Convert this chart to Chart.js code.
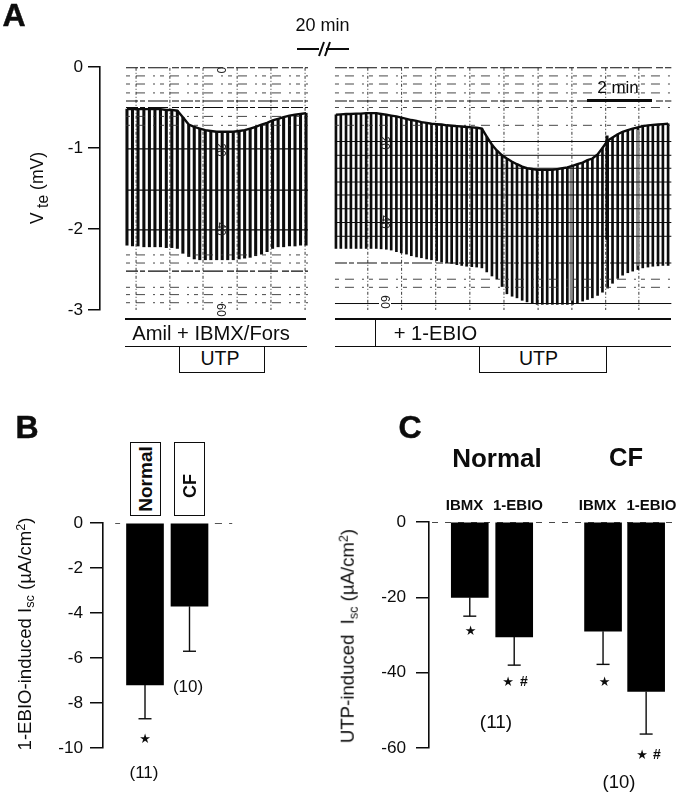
<!DOCTYPE html>
<html><head><meta charset="utf-8">
<script src="https://cdn.jsdelivr.net/npm/chart.js@4"></script>
<style>
html,body{margin:0;padding:0;background:#fff;width:685px;height:794px;overflow:hidden}
body{position:relative;font-family:"Liberation Sans",Arial,sans-serif;color:#0c0c0c}
canvas{position:absolute;left:0}
.t{position:absolute;white-space:nowrap;line-height:1;transform:translate(-50%,-50%)}
.r{transform:translate(-50%,-50%) rotate(-90deg)}
.cw{transform:translate(-50%,-50%) rotate(90deg);font-size:12px;color:#222}
.b{font-weight:bold}
.l{position:absolute;background:#0c0c0c}
.box{position:absolute;border:1.3px solid #0c0c0c;box-sizing:border-box;background:#fff}
sub{font-size:.68em;vertical-align:-.28em;line-height:0}
sup{font-size:.68em;vertical-align:.45em;line-height:0}
.s{font-family:"DejaVu Sans";font-size:13px}
</style></head><body>
<canvas id="cA" width="685" height="380" style="top:0"></canvas>
<canvas id="cB" width="300" height="394" style="top:400px"></canvas>
<canvas id="cC" width="355" height="394" style="top:400px;left:330px"></canvas>

<div class="t b" style="left:14px;top:15px;font-size:32px;-webkit-text-stroke:.5px #0c0c0c">A</div>
<div class="t" style="left:322.5px;top:25px;font-size:18px">20 min</div>
<svg style="position:absolute;left:295px;top:40px" width="58" height="18"><path d="M2 9H24M31 9H54M24 16L29 2M30 16L35 2" stroke="#0c0c0c" stroke-width="2" fill="none"/></svg>
<div class="t r" style="left:38px;top:188px;font-size:17.5px">V<sub style="font-size:.9em"> te</sub> (mV)</div>
<div class="t" style="left:618px;top:87px;font-size:17px">2 min</div>
<div class="l" style="left:587px;top:99px;width:65px;height:3px"></div>
<div class="t cw" style="left:221px;top:70px">0</div>
<div class="t cw" style="left:221px;top:150px">20</div>
<div class="t cw" style="left:221px;top:229px">40</div>
<div class="t cw" style="left:221px;top:310px;background:#fff">60</div>
<div class="t cw" style="left:385px;top:143px">20</div>
<div class="t cw" style="left:385px;top:222px">40</div>
<div class="t cw" style="left:385px;top:302px;background:#fff">60</div>

<div class="l" style="left:125px;top:318px;width:181px;height:1.5px"></div>
<div class="l" style="left:125px;top:345.5px;width:182px;height:1.5px"></div>
<div class="l" style="left:335px;top:318px;width:336px;height:1.5px"></div>
<div class="l" style="left:335px;top:345.5px;width:336px;height:1.5px"></div>
<div class="l" style="left:375px;top:318px;width:1.3px;height:28px"></div>
<div class="t" style="left:211px;top:333px;font-size:20.2px">Amil + IBMX/Fors</div>
<div class="t" style="left:435.5px;top:333px;font-size:20.2px">+ 1-EBIO</div>
<div class="box" style="left:179px;top:346px;width:86px;height:27px"></div>
<div class="t" style="left:220px;top:359px;font-size:19.5px">UTP</div>
<div class="box" style="left:479px;top:346px;width:128px;height:27px"></div>
<div class="t" style="left:538.5px;top:359px;font-size:19.5px">UTP</div>

<div class="t b" style="left:27px;top:427px;font-size:32px;-webkit-text-stroke:.5px #0c0c0c">B</div>
<div class="box" style="left:130px;top:441.5px;width:31px;height:74px"></div>
<div class="box" style="left:173.5px;top:442px;width:31px;height:73.5px"></div>
<div class="t r b" style="left:145px;top:479px;font-size:19px">Normal</div>
<div class="t r b" style="left:189.5px;top:485.5px;font-size:18px">CF</div>
<div class="t r" style="left:25px;top:633.5px;font-size:18.6px">1-EBIO-induced I<sub>sc</sub> (µA/cm<sup>2</sup>)</div>
<div class="t s" style="left:145px;top:738px">★</div>
<div class="t" style="left:144px;top:772px;font-size:17px">(11)</div>
<div class="t" style="left:188px;top:686px;font-size:17px">(10)</div>

<div class="t b" style="left:410px;top:427px;font-size:32px;-webkit-text-stroke:.5px #0c0c0c">C</div>
<div class="t b" style="left:497px;top:458px;font-size:26px">Normal</div>
<div class="t b" style="left:626px;top:458px;font-size:25.5px">CF</div>
<div class="t b" style="left:464.5px;top:504px;font-size:15px">IBMX</div>
<div class="t b" style="left:518px;top:504px;font-size:15px">1-EBIO</div>
<div class="t b" style="left:597.5px;top:504px;font-size:15px">IBMX</div>
<div class="t b" style="left:651.5px;top:504px;font-size:15px">1-EBIO</div>
<div class="t r" style="left:348px;top:636px;font-size:18.6px">UTP-induced&nbsp; I<sub>sc</sub> (µA/cm<sup>2</sup>)</div>
<div class="t s" style="left:470.5px;top:629.5px">★</div>
<div class="t s" style="left:508px;top:681px">★</div>
<div class="t b" style="left:524px;top:681px;font-size:14px">#</div>
<div class="t s" style="left:604.5px;top:681px">★</div>
<div class="t s" style="left:642px;top:754px">★</div>
<div class="t b" style="left:657px;top:754px;font-size:14px">#</div>
<div class="t" style="left:496px;top:721px;font-size:19px">(11)</div>
<div class="t" style="left:619px;top:782px;font-size:18.5px">(10)</div>

<script>
// Panel A: times in minutes, voltages in mV
const aLeftTimes=[0.83,1.00,1.17,1.35,1.52,1.69,1.86,2.04,2.21,2.38,2.55,2.73,2.90,3.07,3.24,3.41,3.59,3.76,3.93,4.10,4.28,4.45,4.62,4.79,4.97,5.14,5.31,5.48,5.65,5.83,6.00,6.17,6.34];
const aLeftTop=[-0.52,-0.52,-0.52,-0.52,-0.52,-0.52,-0.52,-0.53,-0.53,-0.54,-0.62,-0.71,-0.74,-0.76,-0.78,-0.79,-0.80,-0.80,-0.80,-0.80,-0.79,-0.78,-0.76,-0.74,-0.71,-0.69,-0.66,-0.64,-0.62,-0.60,-0.59,-0.58,-0.57];
const aLeftBottom=[-2.20,-2.21,-2.21,-2.22,-2.22,-2.22,-2.22,-2.23,-2.23,-2.24,-2.30,-2.34,-2.37,-2.38,-2.38,-2.38,-2.38,-2.38,-2.38,-2.38,-2.37,-2.36,-2.35,-2.33,-2.31,-2.28,-2.24,-2.22,-2.22,-2.21,-2.21,-2.20,-2.20];
const aRightTimes=[7.26,7.41,7.57,7.72,7.88,8.03,8.19,8.34,8.50,8.65,8.81,8.96,9.12,9.27,9.43,9.58,9.74,9.89,10.05,10.20,10.36,10.51,10.67,10.82,10.98,11.13,11.28,11.44,11.59,11.75,11.90,12.06,12.21,12.37,12.52,12.68,12.83,12.99,13.14,13.30,13.45,13.61,13.76,13.92,14.07,14.23,14.38,14.54,14.69,14.85,15.00,15.15,15.31,15.46,15.62,15.77,15.93,16.08,16.24,16.39,16.55,16.70,16.86,17.01,17.17,17.32,17.48];
const aRightTop=[-0.59,-0.585,-0.58,-0.58,-0.575,-0.575,-0.57,-0.57,-0.57,-0.58,-0.59,-0.60,-0.61,-0.625,-0.64,-0.655,-0.665,-0.68,-0.69,-0.70,-0.705,-0.71,-0.72,-0.725,-0.73,-0.735,-0.74,-0.745,-0.75,-0.76,-0.86,-0.96,-1.03,-1.09,-1.13,-1.17,-1.20,-1.23,-1.25,-1.26,-1.27,-1.27,-1.27,-1.27,-1.26,-1.25,-1.24,-1.22,-1.20,-1.18,-1.15,-1.13,-1.08,-1.00,-0.91,-0.87,-0.83,-0.80,-0.78,-0.76,-0.745,-0.73,-0.72,-0.715,-0.71,-0.705,-0.70];
const aRightBottom=[-2.24,-2.24,-2.24,-2.24,-2.24,-2.24,-2.24,-2.24,-2.24,-2.245,-2.25,-2.26,-2.28,-2.295,-2.31,-2.33,-2.345,-2.355,-2.37,-2.38,-2.39,-2.405,-2.415,-2.425,-2.44,-2.45,-2.46,-2.465,-2.47,-2.48,-2.53,-2.58,-2.62,-2.71,-2.80,-2.83,-2.85,-2.88,-2.90,-2.92,-2.93,-2.93,-2.93,-2.93,-2.93,-2.93,-2.93,-2.93,-2.91,-2.89,-2.87,-2.85,-2.82,-2.78,-2.73,-2.67,-2.61,-2.57,-2.54,-2.52,-2.50,-2.48,-2.47,-2.46,-2.455,-2.45,-2.45];
const spikeTime=[15.6], spikeRange=[[-2.13,-0.85]];
const streakTimes=[14.50,16.55], streakRanges=[[-2.88,-1.22],[-2.45,-0.78]];
// chart-paper rulings
const leftSpan=[0.80,6.40], rightSpan=[7.23,17.58];
const leftBroken=[-0.01,-0.42,-0.5,-2.52,-3.01];
const leftSolid=[-1.01,-1.52,-2.01];
const leftFaint=[-0.11,-0.21,-0.32,-0.61,-0.72,-2.32,-2.42,-2.72,-2.81,-2.91];
const rightBroken=[-0.01,-0.42,-2.42,-3.01];
const rightSolid=[-0.92,-1.09,-1.25,-1.42,-1.58,-1.75,-1.92,-2.09,-2.92];
const rightFaint=[-0.11,-0.21,-0.32,-0.5,-0.72,-2.62,-2.72];
const leftVertical=[1.11,2.15,3.17,4.22,5.26,6.31];
const rightVertical=[8.24,9.28,10.33,11.38,12.43,13.48,14.52,15.56,16.58];
// Panel B
const bCategories=['Normal','CF'], bPositions=[1,2], bValues=[-7.2,-3.7], bErrors=[-8.7,-5.7];
const bZeroSegments=[[0.33,0.44],[2.57,2.73],[2.89,2.96]];
// Panel C
const cCategories=['IBMX','1-EBIO','IBMX','1-EBIO'], cPositions=[1,2,4,4.97], cValues=[-20,-30.5,-29,-45], cErrors=[-25,-38,-37.8,-56.3];
const cZeroSpan=[0.15,5.65];

Chart.defaults.font.family='"Liberation Sans",Arial,sans-serif';
Chart.defaults.color='#0c0c0c';
const INK='#0c0c0c';
const seg=(x0,x1,y0,y1,w,c,dash)=>({type:'line',data:[{x:x0,y:y0},{x:x1,y:y1}],borderColor:c,borderWidth:w,borderDash:dash,pointRadius:0,fill:false});
const hr=(span,vals,w,c,dash)=>vals.map(v=>seg(span[0],span[1],v,v,w,c,dash));
const bars=(ts,lo,hi,w,c)=>({type:'bar',grouped:false,barThickness:w,backgroundColor:c,borderWidth:0,data:ts.map((t,i)=>({x:t,y:[lo[i],hi[i]]}))});
const envelope=(ts,v)=>({type:'line',data:ts.map((t,i)=>({x:t,y:v[i]})),borderColor:INK,borderWidth:2.4,pointRadius:0,fill:false,tension:0});
const errBar=(x,v,e)=>({type:'line',data:[{x,y:v},{x,y:e}],borderColor:INK,borderWidth:1.4,pointStyle:'line',pointRadius:[0,6.5],pointBorderWidth:1.4,pointBorderColor:INK,fill:false});

function yAxes(left,min,max,major,minor,tickLen,minorLen,pad,size){
  const s={
    y:{type:'linear',position:'left',weight:0,min,max,afterFit:a=>{a.width=left},
       ticks:{stepSize:major,padding:pad,font:{size},color:INK,autoSkip:false,maxRotation:0},
       grid:{drawOnChartArea:false,drawTicks:true,tickLength:tickLen,tickColor:INK,tickWidth:1.5,lineWidth:1.5,color:INK},
       border:{display:true,color:INK,width:1.6}}};
  if(minor){s.y2={type:'linear',position:'left',weight:1,min,max,afterFit:a=>{a.width=0},
       ticks:{stepSize:minor,display:false},
       grid:{drawOnChartArea:false,drawTicks:true,tickLength:minorLen,tickColor:INK,tickWidth:1.5,color:INK},
       border:{display:false}};}
  return s;
}
const base=(padding)=>({responsive:false,animation:false,events:[],layout:{padding},plugins:{legend:{display:false},tooltip:{enabled:false}}});

const dashS=[12,2,5,3,20,4,7,2], dashF=[4,6,9,8,2,5], dashV=[3,2,1,2];
new Chart(document.getElementById('cA'),{type:'bar',data:{datasets:[
  envelope(aLeftTimes,aLeftTop),envelope(aRightTimes,aRightTop),
  ...hr(leftSpan,leftBroken,1.1,INK,dashS),...hr(leftSpan,leftSolid,1.2,INK,[]),...hr(leftSpan,leftFaint,0.9,'#333',dashF),
  ...hr(rightSpan,rightBroken,1.1,INK,dashS),...hr(rightSpan,rightSolid,1,INK,[]),...hr(rightSpan,rightFaint,0.9,'#333',dashF),
  bars(streakTimes,streakRanges.map(r=>r[0]),streakRanges.map(r=>r[1]),2.5,'#8a8a8a'),
  bars(spikeTime,spikeRange.map(r=>r[0]),spikeRange.map(r=>r[1]),2.5,INK),
  bars(aLeftTimes,aLeftBottom,aLeftTop,2.4,INK),
  bars(aRightTimes,aRightBottom,aRightTop,2,INK),
  ...leftVertical.map(x=>seg(x,x,-0.01,-3.02,0.9,'#222',dashV)),
  ...rightVertical.map(x=>seg(x,x,-0.01,-3.02,0.9,'#222',dashV))
]},options:{...base({left:0,top:67,right:13,bottom:70}),scales:{
  x:{type:'linear',display:false,min:0,max:17.6,offset:false,grid:{display:false}},
  ...yAxes(100,-3,0,1,0.5,12,6,5,17.2)
}}});

new Chart(document.getElementById('cB'),{type:'bar',data:{datasets:[
  ...bZeroSegments.map(s=>seg(s[0],s[1],0,0,1.4,INK,[])),
  ...bPositions.map((x,i)=>errBar(x,bValues[i],bErrors[i])),
  {type:'bar',label:'1-EBIO-induced Isc',grouped:false,barThickness:37,backgroundColor:'#000',borderWidth:0,data:bPositions.map((x,i)=>({x,y:bValues[i]}))}
]},options:{...base({left:0,top:123,right:60,bottom:46}),scales:{
  x:{type:'linear',display:false,min:0.056,max:3.135,offset:false,grid:{display:false}},
  ...yAxes(103,-10,0,2,null,13,0,7,17.2)
}}});

new Chart(document.getElementById('cC'),{type:'bar',data:{datasets:[
  ...cPositions.map((x,i)=>errBar(x,cValues[i],cErrors[i])),
  {type:'bar',label:'UTP-induced Isc',grouped:false,barThickness:37,backgroundColor:'#000',borderWidth:0,data:cPositions.map((x,i)=>({x,y:cValues[i]}))},
  seg(cZeroSpan[0],cZeroSpan[1],0,0,1.7,INK,[6,7])
]},options:{...base({left:0,top:122,right:0,bottom:46}),scales:{
  x:{type:'linear',display:false,min:0.082,max:5.667,offset:false,grid:{display:false}},
  ...yAxes(99,-60,0,20,10,13,7,10,17.2)
}}});
</script>
</body></html>
